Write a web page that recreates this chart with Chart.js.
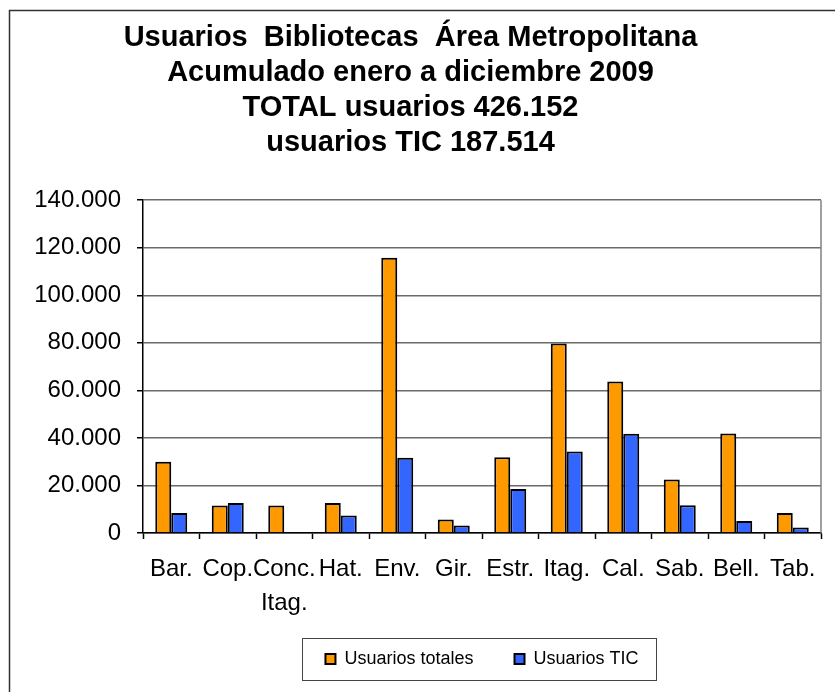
<!DOCTYPE html>
<html>
<head>
<meta charset="utf-8">
<title>Usuarios Bibliotecas Área Metropolitana</title>
<script src="https://cdn.jsdelivr.net/npm/chart.js@4.4.1/dist/chart.umd.min.js"></script>
<style>
    html, body { margin: 0; padding: 0; background: #ffffff; }
    #wrap { position: relative; width: 835px; height: 692px; }
</style>
</head>
<body>
<div id="wrap"><canvas id="usuariosChart" width="835" height="692"></canvas></div>
<script>
(function () {
    'use strict';

    // Data
    const CATEGORIES = ['Bar.', 'Cop.', ['Conc.', 'Itag.'], 'Hat.', 'Env.', 'Gir.', 'Estr.', 'Itag.', 'Cal.', 'Sab.', 'Bell.', 'Tab.'];
    const USUARIOS_TOTALES = [30000, 11600, 11600, 12600, 115800, 5700, 31900, 79700, 63700, 22500, 41900, 8400];
    const USUARIOS_TIC = [8400, 12600, 0, 7400, 31700, 3200, 18500, 34300, 41800, 11700, 5000, 2300];
    const SERIES_NAMES = ['Usuarios totales', 'Usuarios TIC'];
    const Y_MAX = 140000;
    const Y_STEP = 20000;
    const TITLE_LINES = [
        'Usuarios  Bibliotecas  Área Metropolitana',
        'Acumulado enero a diciembre 2009',
        'TOTAL usuarios 426.152',
        'usuarios TIC 187.514'
    ];

    const FONT = "'Liberation Sans', Arial, Helvetica, sans-serif";
    const ORANGE = '#ff9900';
    const BLUE = '#3366ff';

    // The legend sits a little higher than Chart.js would put it
    const LEGEND_SHIFT = 9;

    /**
     * Formats a number with a dot as thousands separator (e.g. "120.000").
     */
    function formatNumber(num) {
        return num.toString().replace(/\B(?=(\d{3})+(?!\d))/g, '.');
    }

    // White background, outer frame, plot frame and legend frame
    const framePlugin = {
        id: 'frames',
        afterLayout(chart) {
            if (chart.legend) {
                chart.legend.top -= LEGEND_SHIFT;
                chart.legend.bottom -= LEGEND_SHIFT;
            }
        },
        beforeDraw(chart) {
            const ctx = chart.ctx;
            ctx.save();
            ctx.fillStyle = '#ffffff';
            ctx.fillRect(0, 0, chart.width, chart.height);
            ctx.strokeStyle = '#333333';
            ctx.lineWidth = 1.5;
            ctx.beginPath();
            ctx.moveTo(9.5, chart.height);
            ctx.lineTo(9.5, 10.5);
            ctx.lineTo(chart.width, 10.5);
            ctx.stroke();
            ctx.restore();
        },
        afterDraw(chart) {
            const ctx = chart.ctx;
            const area = chart.chartArea;
            ctx.save();
            // right edge of the plot area
            ctx.strokeStyle = '#808080';
            ctx.lineWidth = 1.5;
            ctx.beginPath();
            ctx.moveTo(area.right, area.top);
            ctx.lineTo(area.right, area.bottom);
            ctx.stroke();

            // box round the legend
            const boxes = chart.legend && chart.legend.legendHitBoxes;
            if (boxes && boxes.length) {
                const first = boxes[0];
                const last = boxes[boxes.length - 1];
                const cy = first.top + first.height / 2;
                const x0 = Math.round(first.left - 23) + 0.5;
                const x1 = Math.round(last.left + last.width + 17) + 0.5;
                const y0 = Math.round(cy - 21) + 0.5;
                const y1 = Math.round(cy + 21) + 0.5;
                ctx.strokeStyle = '#444444';
                ctx.lineWidth = 1;
                ctx.strokeRect(x0, y0, x1 - x0, y1 - y0);
            }
            ctx.restore();
        }
    };

    function initChart() {
        const canvas = document.getElementById('usuariosChart');
        const ctx = canvas.getContext('2d');

        new Chart(ctx, {
            type: 'bar',
            data: {
                labels: CATEGORIES,
                datasets: [{
                    label: SERIES_NAMES[0],
                    data: USUARIOS_TOTALES,
                    backgroundColor: ORANGE,
                    borderColor: '#000000',
                    borderWidth: 2,
                    categoryPercentage: 0.566,
                    barPercentage: 1.0
                }, {
                    label: SERIES_NAMES[1],
                    data: USUARIOS_TIC,
                    backgroundColor: BLUE,
                    borderColor: '#000000',
                    borderWidth: 2,
                    categoryPercentage: 0.566,
                    barPercentage: 1.0
                }]
            },
            options: {
                responsive: false,
                animation: false,
                devicePixelRatio: 1,
                layout: {
                    padding: { left: 0, right: 14, top: 10, bottom: 5 }
                },
                plugins: {
                    title: {
                        display: true,
                        text: TITLE_LINES,
                        color: '#000000',
                        font: { family: FONT, size: 29, weight: 'bold', lineHeight: 1.2 },
                        padding: { top: 11, bottom: 40 }
                    },
                    legend: {
                        display: true,
                        position: 'bottom',
                        fullSize: false,
                        labels: {
                            color: '#000000',
                            font: { family: FONT, size: 18 },
                            boxWidth: 10,
                            boxHeight: 10,
                            padding: 41
                        }
                    },
                    tooltip: { enabled: false }
                },
                scales: {
                    x: {
                        grid: {
                            offset: true,
                            drawOnChartArea: false,
                            drawTicks: true,
                            tickLength: 6,
                            tickColor: '#000000',
                            tickWidth: 1.5
                        },
                        border: { color: '#000000', width: 1.5 },
                        ticks: {
                            color: '#000000',
                            font: { family: FONT, size: 24, lineHeight: 1.42 },
                            padding: 13,
                            maxRotation: 0,
                            autoSkip: false
                        },
                        afterFit(scale) {
                            scale.height = 85;
                        }
                    },
                    y: {
                        min: 0,
                        max: Y_MAX,
                        grid: {
                            color: '#6b6b6b',
                            lineWidth: 1.5,
                            drawTicks: true,
                            tickLength: 6,
                            tickColor: '#000000',
                            tickWidth: 1.5
                        },
                        border: { color: '#000000', width: 1.5 },
                        ticks: {
                            stepSize: Y_STEP,
                            color: '#000000',
                            font: { family: FONT, size: 24 },
                            padding: 16,
                            callback: function (value) {
                                return formatNumber(value);
                            }
                        },
                        afterFit(scale) {
                            scale.width = 143;
                        }
                    }
                }
            },
            plugins: [framePlugin]
        });
    }

    if (document.readyState === 'loading') {
        document.addEventListener('DOMContentLoaded', initChart);
    } else {
        initChart();
    }
})();
</script>
</body>
</html>
